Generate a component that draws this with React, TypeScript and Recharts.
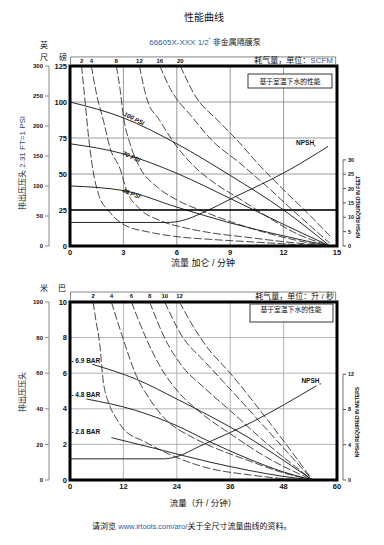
import React from 'react';
import {
  ComposedChart,
  Line,
  XAxis,
  YAxis,
  CartesianGrid,
  ReferenceArea,
  ReferenceLine,
  ReferenceDot,
} from 'recharts';

type Pt = { x: number; y: number };

const MIX = "'Liberation Sans', Arial, 'Noto Sans CJK SC', sans-serif";
const BLUE = '#2b5aa8';

// ---- top chart: GPM / PSI / feet ----
const gpmTicks = [0, 3, 6, 9, 12, 15];
const psiTicks = [0, 25, 50, 75, 100, 125];
const feetTicks = [0, 50, 100, 150, 200, 250, 300];
const npshFeetTicks = [0, 5, 10, 15, 20, 25, 30];
const scfmLabels = ['2', '4', '8', '12', '16', '20'];

const psi100: Pt[] = [{ x: 0, y: 100 }, { x: 3, y: 89 }, { x: 6, y: 71 }, { x: 9, y: 49 }, { x: 12, y: 25 }, { x: 14.6, y: 0 }];
const psi70: Pt[] = [{ x: 0, y: 71 }, { x: 3, y: 64 }, { x: 6, y: 50.5 }, { x: 9, y: 33 }, { x: 12, y: 15 }, { x: 14.6, y: 0 }];
const psi40: Pt[] = [{ x: 0, y: 41.7 }, { x: 3, y: 38.5 }, { x: 6, y: 27 }, { x: 9, y: 16 }, { x: 12, y: 7 }, { x: 14.6, y: 0 }];

const scfm2: Pt[] = [{ x: 0.65, y: 125 }, { x: 0.85, y: 100 }, { x: 1.05, y: 75 }, { x: 1.3, y: 52 }, { x: 1.6, y: 36 }, { x: 2.2, y: 24 }, { x: 3, y: 15 }, { x: 4.5, y: 9.5 }, { x: 6, y: 6.5 }, { x: 8, y: 4.5 }, { x: 10, y: 3 }, { x: 12, y: 1.5 }, { x: 14.6, y: 0 }];
const scfm4: Pt[] = [{ x: 1.2, y: 125 }, { x: 1.5, y: 105 }, { x: 1.9, y: 86 }, { x: 2.25, y: 68 }, { x: 2.8, y: 54 }, { x: 3.2, y: 38 }, { x: 3.9, y: 26 }, { x: 5, y: 18 }, { x: 6.5, y: 12.5 }, { x: 8, y: 9 }, { x: 10, y: 6 }, { x: 12, y: 3 }, { x: 14.6, y: 0 }];
const scfm8: Pt[] = [{ x: 2.6, y: 125 }, { x: 2.8, y: 110 }, { x: 3, y: 90 }, { x: 3.4, y: 70 }, { x: 3.9, y: 55 }, { x: 4.9, y: 41 }, { x: 6, y: 32 }, { x: 7.5, y: 24 }, { x: 9, y: 17 }, { x: 10.5, y: 11 }, { x: 12, y: 6 }, { x: 13.5, y: 2 }, { x: 14.6, y: 0 }];
const scfm12: Pt[] = [{ x: 3.9, y: 125 }, { x: 4.3, y: 103 }, { x: 5.05, y: 87 }, { x: 6, y: 69 }, { x: 7, y: 55 }, { x: 8.2, y: 43 }, { x: 9.5, y: 33 }, { x: 11, y: 21 }, { x: 12.5, y: 10 }, { x: 14.6, y: 0 }];
const scfm16: Pt[] = [{ x: 5.05, y: 125 }, { x: 5.6, y: 110 }, { x: 6.9, y: 89 }, { x: 8, y: 73 }, { x: 9.5, y: 58 }, { x: 11, y: 42 }, { x: 12.5, y: 25 }, { x: 14.6, y: 2 }];
const scfm20: Pt[] = [{ x: 6.2, y: 125 }, { x: 7, y: 105 }, { x: 8.4, y: 86 }, { x: 9.5, y: 72 }, { x: 10.5, y: 58 }, { x: 12, y: 39 }, { x: 13.5, y: 21 }, { x: 14.6, y: 7 }];
const npshFeet: Pt[] = [{ x: 0, y: 8.2 }, { x: 5.5, y: 8.2 }, { x: 6.2, y: 8.7 }, { x: 7.6, y: 12 }, { x: 9, y: 16.3 }, { x: 12.4, y: 26.8 }, { x: 14.5, y: 34.7 }];

// ---- bottom chart: LPM / bar / metres ----
const lpmTicks = [0, 12, 24, 36, 48, 60];
const barTicks = [0, 2, 4, 6, 8, 10];
const meterTicks = [0, 20, 40, 60, 80, 100];
const npshMeterTicks = [0, 4, 8, 12];
const lpsLabels = ['2', '4', '6', '8', '10', '12'];

const bar69: Pt[] = [{ x: 5, y: 6.5 }, { x: 15, y: 5.65 }, { x: 24, y: 4.55 }, { x: 31, y: 3.65 }, { x: 40, y: 2.4 }, { x: 48, y: 1.1 }, { x: 54.5, y: 0 }];
const bar48: Pt[] = [{ x: 3.7, y: 4.55 }, { x: 14.5, y: 3.93 }, { x: 24, y: 3.05 }, { x: 31, y: 2.2 }, { x: 40, y: 1.2 }, { x: 48, y: 0.45 }, { x: 54.5, y: 0 }];
const bar28: Pt[] = [{ x: 9.3, y: 2.38 }, { x: 19, y: 1.78 }, { x: 31, y: 1.03 }, { x: 40, y: 0.55 }, { x: 48, y: 0.2 }, { x: 54.5, y: 0 }];

const lps2: Pt[] = [{ x: 5.2, y: 10 }, { x: 5.8, y: 9 }, { x: 6.7, y: 7.6 }, { x: 7.4, y: 5.7 }, { x: 8.9, y: 4.2 }, { x: 10.4, y: 3.46 }, { x: 11.9, y: 2.9 }, { x: 16.8, y: 2.15 }, { x: 24.3, y: 1.23 }, { x: 31, y: 0.67 }, { x: 40, y: 0.3 }, { x: 48, y: 0.08 }, { x: 54.5, y: 0 }];
const lps4: Pt[] = [{ x: 9.3, y: 10 }, { x: 11.9, y: 7.96 }, { x: 14.5, y: 6.1 }, { x: 18.3, y: 4.4 }, { x: 22, y: 3.28 }, { x: 26.5, y: 2.53 }, { x: 31, y: 1.97 }, { x: 40, y: 1.1 }, { x: 48, y: 0.4 }, { x: 54.5, y: 0 }];
const lps6: Pt[] = [{ x: 13.8, y: 10 }, { x: 17.1, y: 7.96 }, { x: 20.5, y: 6.27 }, { x: 24.3, y: 4.96 }, { x: 29.5, y: 3.75 }, { x: 36, y: 2.6 }, { x: 44, y: 1.3 }, { x: 54.5, y: 0 }];
const lps8: Pt[] = [{ x: 17.9, y: 10 }, { x: 21.3, y: 7.96 }, { x: 25, y: 6.46 }, { x: 30.3, y: 5.15 }, { x: 36, y: 3.9 }, { x: 44, y: 2.1 }, { x: 54.5, y: 0 }];
const lps10: Pt[] = [{ x: 21.3, y: 10 }, { x: 25, y: 8.15 }, { x: 30.3, y: 6.65 }, { x: 36, y: 5.1 }, { x: 44, y: 2.9 }, { x: 54.5, y: 0 }];
const lps12: Pt[] = [{ x: 24.6, y: 10 }, { x: 28, y: 8.5 }, { x: 31, y: 7.4 }, { x: 36, y: 6 }, { x: 44, y: 3.5 }, { x: 54.5, y: 0 }];
const npshMeters: Pt[] = [{ x: 0, y: 2.4 }, { x: 21, y: 2.4 }, { x: 24, y: 2.65 }, { x: 29, y: 3.8 }, { x: 41, y: 6.6 }, { x: 55.4, y: 10.7 }];

// label drawn at a ReferenceDot position
function tag(text: React.ReactNode, angle = 0, size = 6, anchor = 'middle', italic = false) {
  return (p: any) => {
    const vb = p.viewBox || {};
    const x = (vb.x ?? 0) + (vb.width ?? 0) / 2;
    const y = (vb.y ?? 0) + (vb.height ?? 0) / 2;
    return (
      <text
        x={x}
        y={y}
        dy="0.35em"
        textAnchor={anchor}
        fontSize={size}
        fontWeight={700}
        fontStyle={italic ? 'italic' : 'normal'}
        fontFamily={MIX}
        fill="#111"
        transform={angle ? `rotate(${angle} ${x} ${y})` : undefined}
      >
        {text}
      </text>
    );
  };
}

const npshTag = (
  <>
    NPSH<tspan fontSize={4} dy={2}>r</tspan>
  </>
);

interface PanelProps {
  height: number;
  marginTop: number;
  marginBottom: number;
  xMax: number;
  xTicks: number[];
  yMax: number;
  yTicks: number[];
  outerTicks: number[];
  npshMax: number;
  npshTicks: number[];
  npshAxisX: number;
  pressure: Pt[][];
  air: Pt[][];
  airLabels: string[];
  npsh: Pt[];
  box: [number, number];
  gridColor: string;
  children?: React.ReactNode;
}

function Panel(props: PanelProps) {
  const { xMax, yMax, box } = props;
  const tickFont = { fontSize: 7.5, fontWeight: 700, fill: '#111', fontFamily: MIX };
  return (
    <ComposedChart
      width={384}
      height={props.height}
      margin={{ top: props.marginTop, right: 19, bottom: props.marginBottom, left: 19 }}
    >
      <CartesianGrid yAxisId="main" stroke={props.gridColor} strokeWidth={0.8} />
      <XAxis
        type="number"
        dataKey="x"
        domain={[0, xMax]}
        ticks={props.xTicks}
        interval={0}
        allowDataOverflow
        axisLine={false}
        tickLine={false}
        tickSize={0}
        tickMargin={4}
        height={12}
        tick={tickFont}
      />
      <YAxis
        yAxisId="main"
        type="number"
        domain={[0, yMax]}
        ticks={props.yTicks}
        interval={0}
        allowDataOverflow
        width={21}
        axisLine={false}
        tickLine={false}
        tickSize={0}
        tickMargin={3}
        tick={tickFont}
      />
      <YAxis
        yAxisId="outer"
        type="number"
        domain={[0, props.outerTicks[props.outerTicks.length - 1]]}
        ticks={props.outerTicks}
        interval={0}
        allowDataOverflow
        width={30}
        stroke="#8a8a8a"
        tickSize={4}
        tickMargin={2}
        tick={{ ...tickFont, fontSize: 6 }}
      />
      <YAxis
        yAxisId="gap"
        orientation="right"
        type="number"
        domain={[0, 1]}
        allowDataOverflow
        width={6}
        tick={false}
        axisLine={false}
        tickLine={false}
      />
      <YAxis
        yAxisId="npsh"
        orientation="right"
        type="number"
        domain={[0, props.npshMax]}
        ticks={props.npshTicks}
        interval={0}
        allowDataOverflow
        width={22}
        axisLine={false}
        stroke="#555"
        tickSize={3}
        tickMargin={2}
        tick={{ ...tickFont, fontSize: 5.5 }}
      />

      {props.air.map((d, i) => (
        <Line
          key={'air' + i}
          yAxisId="main"
          data={d}
          dataKey="y"
          type="monotone"
          stroke="#1a1a1a"
          strokeWidth={0.8}
          strokeDasharray="8 2.5"
          dot={false}
          isAnimationActive={false}
        />
      ))}
      {props.pressure.map((d, i) => (
        <Line
          key={'p' + i}
          yAxisId="main"
          data={d}
          dataKey="y"
          type="monotone"
          stroke="#111"
          strokeWidth={0.9}
          dot={false}
          isAnimationActive={false}
        />
      ))}
      <Line
        yAxisId="npsh"
        data={props.npsh}
        dataKey="y"
        type="monotone"
        stroke="#111"
        strokeWidth={0.9}
        dot={false}
        isAnimationActive={false}
      />

      <ReferenceLine
        yAxisId="npsh"
        segment={[
          { x: props.npshAxisX, y: 0 },
          { x: props.npshAxisX, y: props.npshTicks[props.npshTicks.length - 1] },
        ]}
        stroke="#555"
        strokeWidth={0.8}
        ifOverflow="visible"
      />

      <ReferenceArea
        yAxisId="main"
        x1={0}
        x2={xMax}
        y1={0}
        y2={yMax}
        fill="none"
        stroke="#000"
        strokeWidth={3}
        ifOverflow="visible"
      />
      <ReferenceArea
        yAxisId="main"
        x1={xMax * 0.002}
        x2={xMax * 0.995}
        y1={box[0]}
        y2={box[1]}
        fill="#fff"
        fillOpacity={1}
        stroke="#666"
        strokeWidth={0.8}
        ifOverflow="visible"
      />
      {props.air.map((d, i) => (
        <ReferenceDot
          key={'al' + i}
          yAxisId="main"
          x={d[0].x}
          y={(box[0] + box[1]) / 2}
          r={0}
          fill="none"
          stroke="none"
          ifOverflow="visible"
          label={tag(props.airLabels[i], 0, 6)}
        />
      ))}
      {props.children}
    </ComposedChart>
  );
}

export default function App() {
  return (
    <div style={{ position: 'absolute', left: 0, top: 0, width: 384, height: 545, background: '#fff', fontFamily: MIX }}>
      <div style={{ position: 'absolute', left: 0, top: 0 }}>
        <Panel
          height={275}
          marginTop={66}
          marginBottom={17}
          xMax={15}
          xTicks={gpmTicks}
          yMax={125}
          yTicks={psiTicks}
          outerTicks={feetTicks}
          npshMax={62.7}
          npshTicks={npshFeetTicks}
          npshAxisX={15.34}
          pressure={[psi100, psi70, psi40]}
          air={[scfm2, scfm4, scfm8, scfm12, scfm16, scfm20]}
          airLabels={scfmLabels}
          npsh={npshFeet}
          box={[126, 131.3]}
          gridColor="#808080"
        >
          <ReferenceLine yAxisId="main" y={25} stroke="#000" strokeWidth={1.3} />
          <ReferenceDot yAxisId="main" x={3.6} y={88.5} r={0} fill="none" stroke="none" label={tag('100 PSI', 27, 6.2, 'middle', true)} />
          <ReferenceDot yAxisId="main" x={3.45} y={62} r={0} fill="none" stroke="none" label={tag('70 PSI', 24, 6.2, 'middle', true)} />
          <ReferenceDot yAxisId="main" x={3.45} y={36.5} r={0} fill="none" stroke="none" label={tag('40 PSI', 20, 6.2, 'middle', true)} />
          <ReferenceDot yAxisId="main" x={12.7} y={71.5} r={0} fill="none" stroke="none" label={tag(npshTag, 0, 6.5, 'start')} />
        </Panel>
      </div>
      <div style={{ position: 'absolute', left: 0, top: 275 }}>
        <Panel
          height={245}
          marginTop={27}
          marginBottom={28}
          xMax={60}
          xTicks={lpmTicks}
          yMax={10}
          yTicks={barTicks}
          outerTicks={meterTicks}
          npshMax={20.2}
          npshTicks={npshMeterTicks}
          npshAxisX={61.35}
          pressure={[bar69, bar48, bar28]}
          air={[lps2, lps4, lps6, lps8, lps10, lps12]}
          airLabels={lpsLabels}
          npsh={npshMeters}
          box={[10.08, 10.56]}
          gridColor="#a0a0a0"
        >
          <ReferenceDot yAxisId="main" x={0.3} y={6.72} r={0} fill="none" stroke="none" label={tag('- 6.9 BAR', 0, 6.5, 'start')} />
          <ReferenceDot yAxisId="main" x={0.3} y={4.8} r={0} fill="none" stroke="none" label={tag('- 4.8 BAR', 0, 6.5, 'start')} />
          <ReferenceDot yAxisId="main" x={0.3} y={2.7} r={0} fill="none" stroke="none" label={tag('- 2.8 BAR', 0, 6.5, 'start')} />
          <ReferenceDot yAxisId="main" x={52} y={5.6} r={0} fill="none" stroke="none" label={tag(npshTag, 0, 6.5, 'start')} />
        </Panel>
      </div>

      <svg width={384} height={545} style={{ position: 'absolute', left: 0, top: 0, pointerEvents: 'none' }}>
        <g fontFamily={MIX} fill="#111">
          <text x={204} y={20.5} textAnchor="middle" fontSize={10}>性能曲线</text>
          <text x={205} y={45} textAnchor="middle" fontSize={8}>
            <tspan fill={BLUE}>66605X-XXX 1/2</tspan>
            <tspan fontSize={5} dy={-3}>"</tspan>
            <tspan dy={3}> 非金属隔膜泵</tspan>
          </text>

          <text x={44} y={48} textAnchor="middle" fontSize={8}>英</text>
          <text x={44} y={60} textAnchor="middle" fontSize={8}>尺</text>
          <text x={63} y={60} textAnchor="middle" fontSize={8}>磅</text>

          <text transform="translate(25,163) rotate(-90)" textAnchor="middle" fontSize={8}>
            排出压压头 <tspan fill="#2c3f78">2.31 FT=1 PSI</tspan>
          </text>
          <text transform="translate(359.5,207) rotate(-90)" textAnchor="middle" fontSize={5} fontWeight={700}>
            NPSH REQUIRED IN FEET
          </text>
          <text x={203} y={265.5} textAnchor="middle" fontSize={9}>流量 加仑 / 分钟</text>

          <text x={333} y={62.5} textAnchor="end" fontSize={8}>
            耗气量，单位：<tspan fill={BLUE}>SCFM</tspan>
          </text>
          <rect x={248} y={74} width={84} height={14} fill="#fff" stroke="#222" strokeWidth={0.9} />
          <text x={290} y={83.5} textAnchor="middle" fontSize={6.8}>基于室温下水的性能</text>

          <text x={44} y={291} textAnchor="middle" fontSize={8}>米</text>
          <text x={62} y={291} textAnchor="middle" fontSize={8}>巴</text>
          <text transform="translate(25,392) rotate(-90)" textAnchor="middle" fontSize={8}>排出压压头</text>
          <text transform="translate(359,422) rotate(-90)" textAnchor="middle" fontSize={5} fontWeight={700}>
            NPSH REQUIRED IN METERS
          </text>
          <text x={203} y={506} textAnchor="middle" fontSize={8.5}>流量（升 / 分钟）</text>

          <text x={334} y={298.5} textAnchor="end" fontSize={8}>耗气量，单位：升 / 秒</text>
          <rect x={250} y={304} width={83} height={18} fill="#fff" stroke="#222" strokeWidth={0.9} />
          <text x={291} y={312} textAnchor="middle" fontSize={6.8}>基于室温下水的性能</text>

          <text x={92} y={529} fontSize={8}>
            请浏览 <tspan fill={BLUE} fontSize={7.5}>www.irtools.com/aro/</tspan>关于全尺寸流量曲线的资料。
          </text>
        </g>
      </svg>
    </div>
  );
}
